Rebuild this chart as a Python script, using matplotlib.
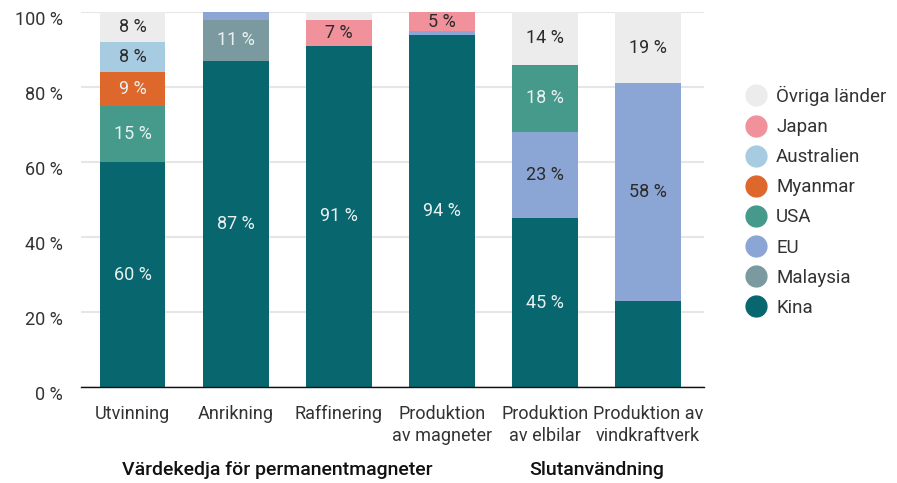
"""
Sällsynta jordartsmetaller: andel per land i värdekedjan
"""

import numpy as np
import matplotlib
matplotlib.use('Agg')
import matplotlib.pyplot as plt
import matplotlib.transforms as mtransforms
from matplotlib.lines import Line2D

plt.rcParams['font.family'] = ['Roboto', 'DejaVu Sans']

# kategorier (x-axel)
steps = ['Utvinning', 'Anrikning', 'Raffinering', 'Produktion\nav magneter',
         'Produktion\nav elbilar', 'Produktion av\nvindkraftverk']

# länder, nerifrån och upp i staplarna
countries = ['Kina', 'Malaysia', 'EU', 'USA', 'Myanmar', 'Australien', 'Japan', 'Övriga länder']

kina = [60, 87, 91, 94, 45, 23]
malaysia = [0, 11, 0, 0, 0, 0]
eu = [0, 2, 0, 1, 23, 58]
usa = [15, 0, 0, 0, 18, 0]
myanmar = [9, 0, 0, 0, 0, 0]
australien = [8, 0, 0, 0, 0, 0]
japan = [0, 0, 7, 5, 0, 0]
ovriga = [8, 0, 2, 0, 14, 19]

# vilka segment som får etikett
show_kina = [True, True, True, True, True, False]
show_min = 5

colors = {
    'Kina': '#07666e',
    'Malaysia': '#7b9aa0',
    'EU': '#8ba5d4',
    'USA': '#459a8b',
    'Myanmar': '#de672c',
    'Australien': '#a7cbe0',
    'Japan': '#f0919b',
    'Övriga länder': '#ececec',
}
light_text = {'Kina', 'Malaysia', 'USA', 'Myanmar'}

legend_order = ['Övriga länder', 'Japan', 'Australien', 'Myanmar', 'USA', 'EU', 'Malaysia', 'Kina']


def main():
    series = [kina, malaysia, eu, usa, myanmar, australien, japan, ovriga]

    fig = plt.figure(figsize=(8.97, 4.83), dpi=100)
    ax = fig.add_axes([0.0903, 0.1988, 0.695, 0.776])

    x = np.arange(len(steps))
    bottom = np.zeros(len(steps))
    for name, vals in zip(countries, series):
        vals = np.array(vals, dtype=float)
        ax.bar(x, vals, bottom=bottom, width=0.64, color=colors[name], zorder=2)
        for i, v in enumerate(vals):
            if v == 0:
                continue
            if name == 'Kina':
                show = show_kina[i]
            else:
                show = v >= show_min
            if show:
                tc = '#e9f0f0' if name in light_text else '#2b2b2b'
                ax.text(x[i], bottom[i] + v / 2, f'{int(v)} %', ha='center', va='center',
                        fontsize=13, color=tc, zorder=3)
        bottom += vals

    ax.set_xlim(-0.5, 5.55)
    ax.set_ylim(0, 100)
    ax.set_yticks(range(0, 101, 20))
    ax.set_yticklabels([f'{v} %' for v in range(0, 101, 20)])
    ax.set_xticks(x)
    ax.set_xticklabels(steps, linespacing=1.25)

    ax.yaxis.grid(True, color='#e6e6e6', linewidth=1.5, zorder=0)
    ax.set_axisbelow(True)
    for s in ['top', 'right', 'left']:
        ax.spines[s].set_visible(False)
    ax.spines['bottom'].set_color('#111111')
    ax.spines['bottom'].set_linewidth(1)
    ax.spines['bottom'].set_zorder(4)

    ax.tick_params(axis='both', length=0, labelsize=13, colors='#333333')
    ax.tick_params(axis='y', pad=13)
    ax.tick_params(axis='x', pad=13)

    # y-etiketterna sitter en aning under linjerna
    offset = mtransforms.ScaledTranslation(0, -6 / 100, fig.dpi_scale_trans)
    for lbl in ax.get_yticklabels():
        lbl.set_transform(lbl.get_transform() + offset)

    # gruppetiketter
    trans = mtransforms.blended_transform_factory(ax.transData, fig.transFigure)
    ax.text(1.4, 1 - 470 / 483, 'Värdekedja för permanentmagneter', transform=trans,
            ha='center', va='center', fontsize=14, fontweight='medium', color='#111111')
    ax.text(4.5, 1 - 470 / 483, 'Slutanvändning', transform=trans,
            ha='center', va='center', fontsize=14, fontweight='medium', color='#111111')

    # förklaring
    handles = [Line2D([0], [0], marker='o', linestyle='', markersize=15,
                      markerfacecolor=colors[n], markeredgecolor=colors[n]) for n in legend_order]
    fig.legend(handles, legend_order, loc='upper left', bbox_to_anchor=(0.812, 0.857),
               frameon=False, fontsize=13.5, handletextpad=0.45, labelspacing=0.645,
               handlelength=1.2, labelcolor='#333333')

    plt.savefig('out.png', dpi=100)


if __name__ == '__main__':
    main()
